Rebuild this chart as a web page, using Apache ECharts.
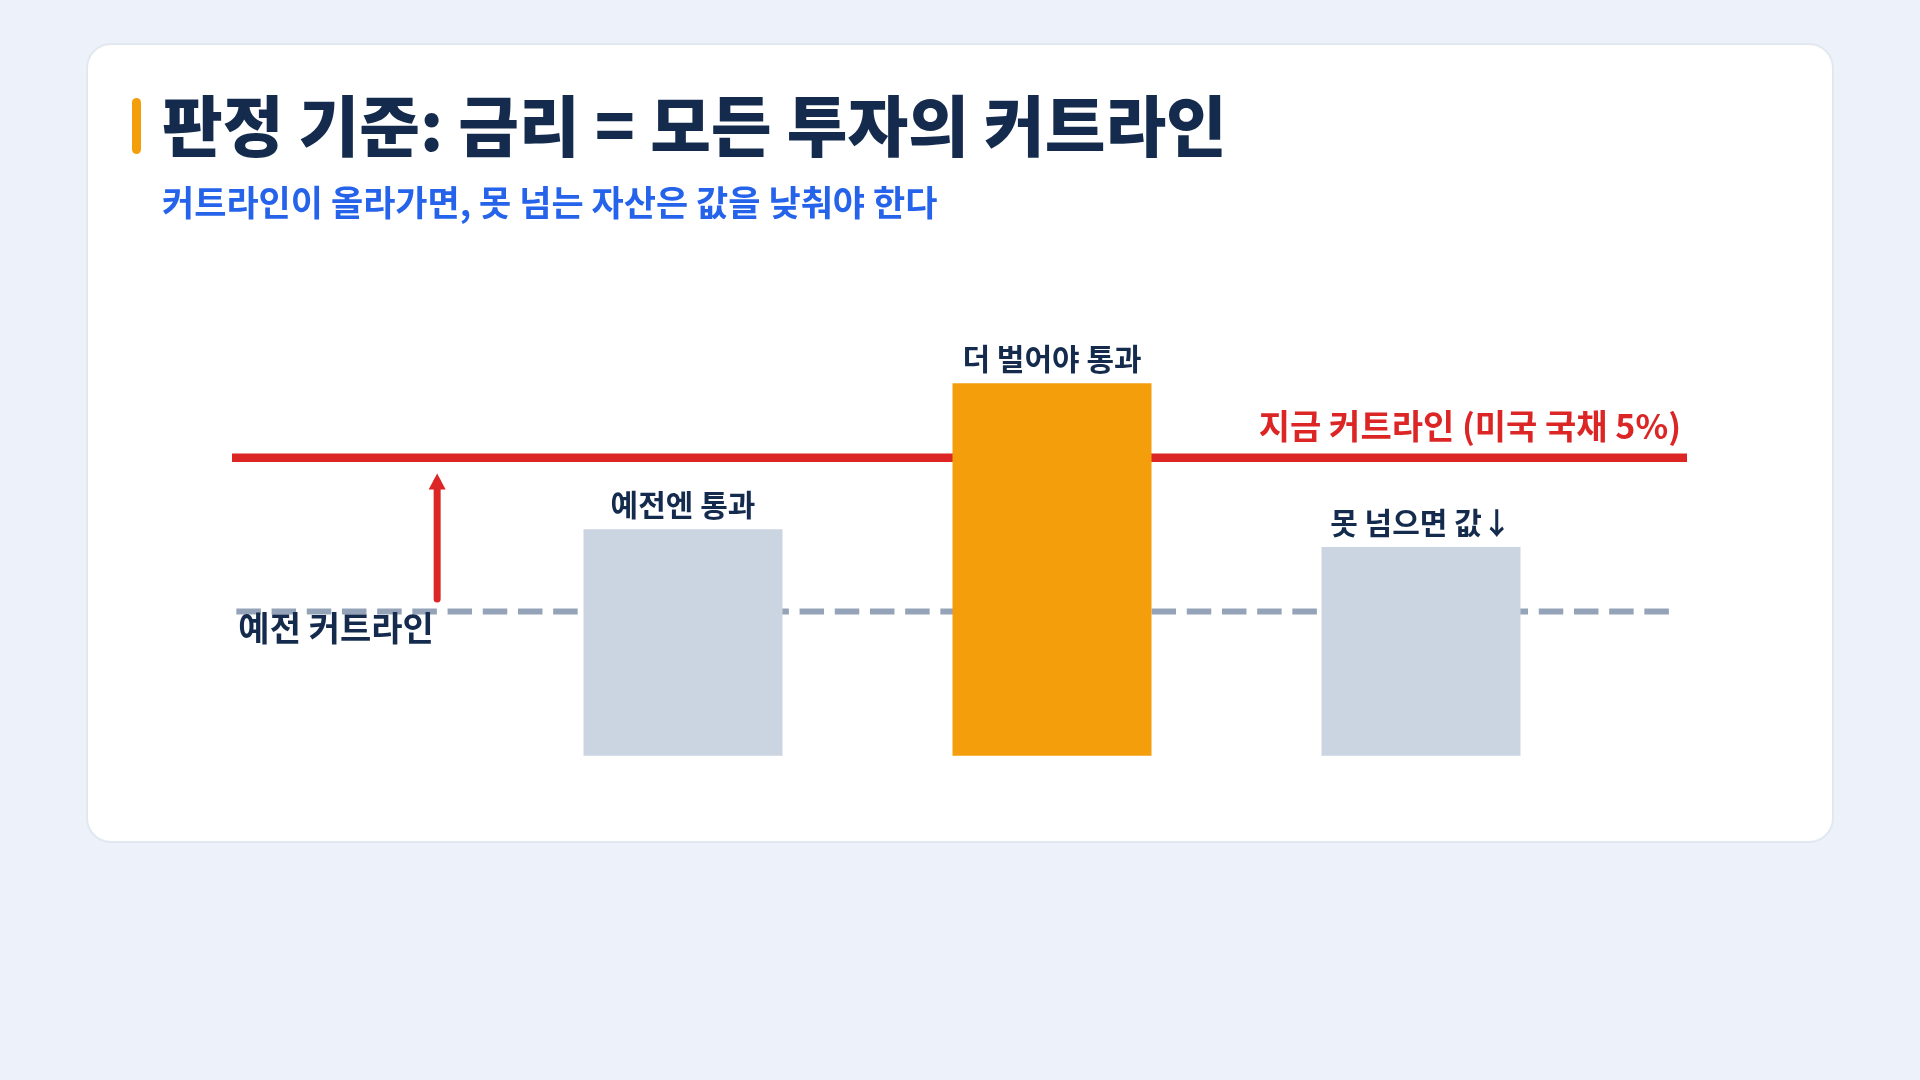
<!DOCTYPE html>
<html><head><meta charset="utf-8">
<script src="https://cdn.jsdelivr.net/npm/echarts@6/dist/echarts.min.js"></script>
<style>html,body{margin:0;padding:0;background:#edf1f9;}#c{width:1920px;height:1080px;}</style>
</head><body><div id="c"></div>
<script>
// ---- data ----
const titleText = '판정 기준: 금리 = 모든 투자의 커트라인';
const subtitleText = '커트라인이 올라가면, 못 넘는 자산은 값을 낮춰야 한다';
const categories = ['예전엔 통과', '더 벌어야 통과', '못 넘으면 값↓'];
const barValues = [3.8, 6.25, 3.5];
const currentCutline = 5;      // 지금 커트라인 (미국 국채 5%)
const oldCutline = 2.42;       // 예전 커트라인
const currentLabel = '지금 커트라인 (미국 국채 5%)';
const oldLabel = '예전 커트라인';
const redSpan = [0, 100];
const dashSpan = [0.3, 99.2];
const arrowX = 14.1;
const arrowRange = [2.63, 4.6];

const FONT = '"Noto Sans CJK KR", "Noto Sans", sans-serif';
const NAVY = '#142b4d';
const RED = '#dc2626';

const chart = echarts.init(document.getElementById('c'), null, {renderer: 'canvas'});
const gridTop = 278.9, gridBottom = 1080 - 755.7;

const option = {
  animation: false,
  backgroundColor: '#edf1f9',
  graphic: [
    {type: 'rect', z: -10, shape: {x: 87, y: 44, width: 1746, height: 798, r: 24},
     style: {fill: '#ffffff', stroke: '#e2e8f0', lineWidth: 2}},
    {type: 'rect', z: 5, shape: {x: 132, y: 98, width: 9, height: 56, r: 4.5},
     style: {fill: '#f59e0b'}}
  ],
  title: {
    text: titleText,
    subtext: subtitleText,
    left: 157, top: 88,
    itemGap: 26,
    textStyle: {fontFamily: FONT, fontSize: 66, fontWeight: 900, color: NAVY},
    subtextStyle: {fontFamily: FONT, fontSize: 35, fontWeight: 700, color: '#2563eb'}
  },
  grid: [
    {left: 498.5, right: 314.5, top: gridTop, bottom: gridBottom},
    {left: 232, right: 233, top: gridTop, bottom: gridBottom}
  ],
  xAxis: [
    {type: 'category', gridIndex: 0, data: categories, show: false},
    {type: 'value', gridIndex: 1, min: 0, max: 100, show: false}
  ],
  yAxis: [
    {type: 'value', gridIndex: 0, min: 0, max: 8, show: false},
    {type: 'value', gridIndex: 1, min: 0, max: 8, show: false}
  ],
  series: [
    {
      name: 'old', type: 'line', xAxisIndex: 1, yAxisIndex: 1, z: 1,
      data: [
        {value: [dashSpan[0], oldCutline],
         label: {show: true, formatter: oldLabel, position: 'bottom', align: 'left', distance: 0,
                 offset: [2, 0], fontFamily: FONT, fontSize: 34, fontWeight: 700, color: NAVY}},
        {value: [dashSpan[1], oldCutline]}
      ],
      symbol: 'circle', symbolSize: 0,
      lineStyle: {color: '#94a3b8', width: 6, type: [24.5, 10.7]},
      silent: true
    },
    {
      name: 'current', type: 'line', xAxisIndex: 1, yAxisIndex: 1, z: 2,
      data: [
        {value: [redSpan[0], currentCutline]},
        {value: [redSpan[1], currentCutline],
         label: {show: true, formatter: currentLabel, position: 'top', align: 'right', distance: 0,
                 offset: [-6, -15], fontFamily: FONT, fontSize: 34, fontWeight: 700, color: RED}}
      ],
      symbol: 'circle', symbolSize: 0,
      lineStyle: {color: RED, width: 8.4},
      silent: true
    },
    {
      name: 'arrow', type: 'line', xAxisIndex: 1, yAxisIndex: 1, z: 2,
      data: [
        {value: [arrowX, arrowRange[0]], symbol: 'none'},
        {value: [arrowX, arrowRange[1]], symbol: 'triangle', symbolSize: [17, 16]}
      ],
      showAllSymbol: true,
      itemStyle: {color: RED},
      lineStyle: {color: RED, width: 7, cap: 'round'},
      silent: true
    },
    {
      name: 'bars', type: 'bar', xAxisIndex: 0, yAxisIndex: 0, z: 5,
      barWidth: 199,
      data: barValues.map((v, i) => ({value: v, itemStyle: {color: i === 1 ? '#f59e0b' : '#cbd5e1'}})),
      label: {show: true, position: 'top', distance: 10, formatter: '{b}',
              fontFamily: FONT, fontSize: 30, fontWeight: 700, color: NAVY},
      silent: true
    }
  ]
};
chart.setOption(option);
</script></body></html>
